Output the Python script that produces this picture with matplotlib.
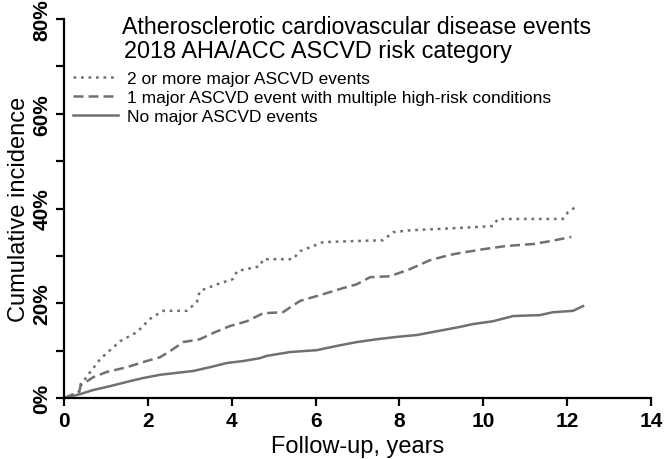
import matplotlib.pyplot as plt
from matplotlib.lines import Line2D

plt.rcParams['font.family'] = ['Liberation Sans', 'DejaVu Sans']

# Cumulative incidence (%) by follow-up year
t_two = [0, 0.36, 0.4, 0.5, 0.86, 1.34, 1.74, 2.05, 2.36, 2.93, 3.17, 3.24, 3.65, 4.03, 4.13,
         4.67, 4.75, 5.46, 5.63, 6.18, 6.82, 7.61, 7.85, 8.25, 9.44, 10.23, 10.35,
         11.9, 12.02, 12.23]
y_two = [0, 1.3, 3.0, 4.0, 8.2, 12.0, 13.9, 16.7, 18.4, 18.4, 20.3, 22.6, 24.0, 25.1, 26.8,
         27.8, 29.3, 29.3, 31.0, 32.9, 33.1, 33.3, 35.0, 35.4, 35.9, 36.3, 37.8,
         37.8, 39.2, 40.5]

t_one = [0, 0.36, 0.4, 0.7, 1.02, 1.5, 1.97, 2.29, 2.6, 2.84, 3.24, 3.55, 3.96, 4.36, 4.75,
         5.22, 5.63, 6.1, 6.58, 6.98, 7.3, 7.77, 8.25, 8.73, 9.2, 9.44, 9.99, 10.56,
         11.18, 11.59, 12.1]
y_one = [0, 1.3, 2.7, 4.4, 5.5, 6.5, 7.8, 8.6, 10.3, 11.8, 12.4, 13.7, 15.2, 16.2, 17.9,
         18.1, 20.5, 21.7, 23.0, 24.0, 25.5, 25.7, 27.2, 29.1, 30.2, 30.6, 31.4, 32.1,
         32.5, 33.1, 34.0]

t_none = [0, 0.38, 0.7, 1.1, 1.5, 1.88, 2.29, 2.68, 3.08, 3.48, 3.89, 4.27, 4.67, 4.84,
          5.39, 6.03, 6.51, 6.98, 7.46, 7.94, 8.42, 8.9, 9.2, 9.44, 9.75, 10.23, 10.71,
          11.35, 11.66, 12.14, 12.38]
y_none = [0, 0.8, 1.7, 2.5, 3.4, 4.2, 4.9, 5.3, 5.7, 6.5, 7.4, 7.8, 8.4, 8.9,
          9.7, 10.1, 11.0, 11.8, 12.4, 12.9, 13.3, 14.1, 14.6, 15.0, 15.6, 16.2, 17.3,
          17.5, 18.1, 18.4, 19.4]

labels = ['2 or more major ASCVD events',
          '1 major ASCVD event with multiple high-risk conditions',
          'No major ASCVD events']

grey = '#707070'
styles = [(0, (1.1, 1.9)), (0, (4, 2)), '-']

fig = plt.figure(figsize=(6.64, 4.6), dpi=100)
ax = fig.add_axes([0.0964, 0.1326, 0.884, 0.8239])

for t, y, ls in zip([t_two, t_one, t_none], [y_two, y_one, y_none], styles):
    ax.plot(t, y, color=grey, lw=1.8, ls=ls)

ax.set_xlim(0, 14)
ax.set_ylim(0, 80)
ax.set_xticks(range(0, 15, 2))
ax.set_yticks(range(0, 81, 20))
ax.set_yticks(range(10, 80, 20), minor=True)
ax.set_yticklabels([f'{v}%' for v in range(0, 81, 20)], rotation=90, va='center')
for s in ['top', 'right']:
    ax.spines[s].set_visible(False)
for s in ['left', 'bottom']:
    ax.spines[s].set_linewidth(1.6)
ax.tick_params(which='both', direction='out', length=6, width=1.6, pad=3)
for lab in ax.get_xticklabels() + ax.get_yticklabels():
    lab.set_fontweight('bold')
    lab.set_fontsize(15)
ax.set_xlabel('Follow-up, years', fontsize=17, labelpad=4)
ax.set_ylabel('Cumulative incidence', fontsize=17, labelpad=2)

ax.text(0.099, 0.981, 'Atherosclerotic cardiovascular disease events', transform=ax.transAxes,
        fontsize=16.7, va='center', ha='left')
ax.text(0.102, 0.916, '2018 AHA/ACC ASCVD risk category', transform=ax.transAxes,
        fontsize=16.9, va='center', ha='left')

handles = [Line2D([], [], color=grey, lw=1.8, ls=ls) for ls in styles]
ax.legend(handles, labels, loc='upper left', bbox_to_anchor=(0.0, 0.885), frameon=False,
          fontsize=12.5, handlelength=2.6, handletextpad=0.55, labelspacing=0.22,
          borderaxespad=0.3, borderpad=0.2)

fig.savefig('out.png', dpi=100)
